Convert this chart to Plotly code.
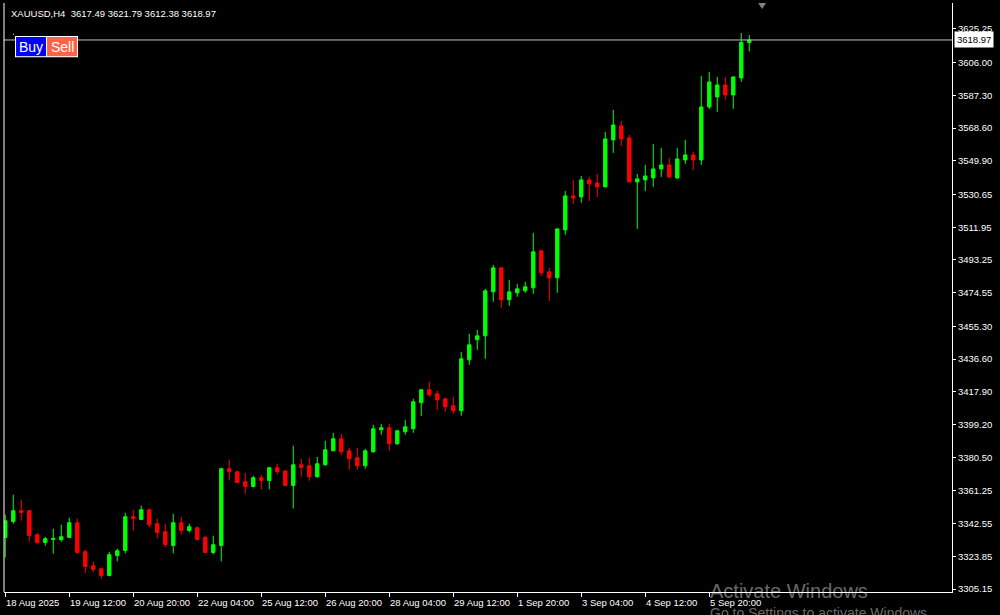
import plotly.graph_objects as go

# ---- data (XAUUSD H4) ----
opens = [3334.63, 3343.77, 3349.89, 3349.89, 3336.17, 3331.77, 3333.49, 3333.32, 3334.63, 3343.03,
         3326.46, 3318.46, 3316.75, 3312.92, 3324.35, 3327.20, 3346.46, 3344.92, 3350.46, 3342.46,
         3337.89, 3330.06, 3343.03, 3338.63, 3340.17, 3334.63, 3326.06, 3330.06, 3373.88, 3372.17,
         3366.45, 3363.77, 3368.74, 3367.20, 3374.45, 3372.60, 3364.34, 3376.17, 3375.59, 3369.31,
         3376.17, 3384.16, 3391.02, 3384.16, 3380.16, 3375.59, 3383.59, 3396.16, 3397.30, 3388.16,
         3395.02, 3396.73, 3411.59, 3419.01, 3416.73, 3413.87, 3409.87, 3407.02, 3436.15, 3447.58,
         3449.86, 3475.00, 3488.71, 3470.43, 3474.43, 3475.57, 3477.29, 3498.42, 3486.43, 3483.00,
         3510.42, 3529.85, 3529.27, 3538.99, 3537.27, 3534.99, 3561.84, 3569.84, 3562.98, 3537.84,
         3538.99, 3540.13, 3545.27, 3547.56, 3540.13, 3550.41, 3553.27, 3550.41, 3580.69, 3586.40,
         3593.26, 3587.55, 3597.26, 3617.49]
highs = [3347.60, 3359.03, 3356.17, 3350.20, 3337.15, 3335.03, 3339.60, 3341.89, 3345.89, 3345.32,
         3327.60, 3320.75, 3316.80, 3326.46, 3328.18, 3348.74, 3350.46, 3352.74, 3351.03, 3345.32,
         3342.46, 3348.17, 3346.46, 3342.46, 3340.74, 3335.77, 3335.60, 3374.45, 3379.02, 3372.74,
         3371.60, 3369.88, 3370.45, 3375.02, 3376.74, 3372.90, 3387.02, 3379.59, 3380.16, 3380.74,
         3389.88, 3394.45, 3393.88, 3385.88, 3385.88, 3385.31, 3399.02, 3399.59, 3399.59, 3396.16,
         3401.87, 3413.87, 3419.58, 3423.58, 3418.44, 3414.44, 3415.01, 3440.72, 3451.01, 3453.29,
         3476.71, 3490.43, 3489.00, 3481.86, 3479.57, 3480.71, 3508.71, 3498.99, 3488.71, 3511.20,
         3532.70, 3538.99, 3541.27, 3540.70, 3542.41, 3566.41, 3578.98, 3572.69, 3564.69, 3542.41,
         3547.56, 3559.55, 3557.27, 3551.55, 3557.27, 3561.84, 3554.98, 3598.40, 3600.69, 3597.83,
         3597.83, 3598.10, 3622.97, 3621.79]
lows = [3323.21, 3342.46, 3344.17, 3332.35, 3331.03, 3329.89, 3325.32, 3332.18, 3334.40, 3325.32,
        3314.47, 3314.64, 3311.04, 3312.35, 3320.92, 3325.49, 3338.46, 3344.70, 3340.46, 3334.06,
        3329.15, 3325.49, 3336.35, 3337.49, 3332.92, 3325.80, 3324.92, 3320.92, 3367.20, 3365.80,
        3359.77, 3363.20, 3362.05, 3362.05, 3370.62, 3363.77, 3351.20, 3369.31, 3367.02, 3368.74,
        3375.59, 3383.90, 3381.88, 3373.31, 3373.31, 3373.88, 3383.02, 3393.30, 3384.16, 3387.59,
        3393.30, 3394.45, 3404.16, 3415.01, 3407.59, 3406.44, 3405.30, 3404.16, 3433.30, 3441.86,
        3436.72, 3469.29, 3465.86, 3467.00, 3472.14, 3474.43, 3473.86, 3484.14, 3469.86, 3474.43,
        3507.56, 3525.27, 3525.85, 3526.99, 3529.27, 3534.80, 3554.41, 3558.41, 3537.60, 3510.99,
        3532.70, 3534.99, 3540.70, 3540.13, 3539.56, 3548.13, 3544.70, 3547.56, 3579.55, 3577.83,
        3584.69, 3579.55, 3594.97, 3612.38]
closes = [3344.17, 3349.89, 3348.92, 3335.77, 3331.77, 3333.89, 3334.06, 3335.03, 3343.03, 3326.06,
          3318.06, 3316.35, 3312.92, 3324.75, 3327.03, 3346.46, 3345.49, 3350.46, 3341.89, 3337.49,
          3330.63, 3343.03, 3338.63, 3340.74, 3333.49, 3326.06, 3330.46, 3373.88, 3372.34, 3366.05,
          3363.77, 3368.74, 3367.20, 3374.45, 3372.34, 3364.34, 3376.17, 3374.62, 3369.31, 3376.74,
          3384.73, 3391.02, 3383.59, 3379.59, 3375.59, 3384.16, 3396.73, 3397.30, 3388.16, 3395.59,
          3397.87, 3412.16, 3419.01, 3416.16, 3413.30, 3409.30, 3407.02, 3436.72, 3444.72, 3449.86,
          3475.57, 3488.71, 3470.43, 3475.00, 3476.71, 3477.86, 3497.85, 3485.86, 3483.00, 3510.99,
          3529.85, 3528.70, 3538.99, 3536.70, 3534.99, 3562.41, 3570.41, 3562.41, 3537.84, 3539.56,
          3541.27, 3545.27, 3547.56, 3540.70, 3550.98, 3553.27, 3550.41, 3580.69, 3594.97, 3593.26,
          3587.55, 3597.83, 3617.60, 3618.97]

time_labels = ["18 Aug 2025", "19 Aug 12:00", "20 Aug 20:00", "22 Aug 04:00", "25 Aug 12:00",
               "26 Aug 20:00", "28 Aug 04:00", "29 Aug 12:00", "1 Sep 20:00", "3 Sep 04:00",
               "4 Sep 12:00", "5 Sep 20:00"]
label_bars = [0, 8, 16, 24, 32, 40, 48, 56, 64, 72, 80, 88]

price_ticks = [3305.15, 3323.85, 3342.55, 3361.25, 3380.50, 3399.20, 3417.90, 3436.60, 3455.30,
               3474.55, 3493.25, 3511.95, 3530.65, 3549.90, 3568.60, 3587.30, 3606.00, 3625.25]

symbol = "XAUUSD,H4"

bars = list(range(len(closes)))
FONT = "Liberation Sans, Arial, sans-serif"

fig = go.Figure()
fig.add_trace(go.Candlestick(
    x=bars, open=opens, high=highs, low=lows, close=closes,
    increasing=dict(line=dict(color="#00FF00", width=1), fillcolor="#00FF00"),
    decreasing=dict(line=dict(color="#FF0000", width=1), fillcolor="#FF0000"),
    whiskerwidth=0, hoverinfo="skip",
))

last_close = closes[-1]

shapes = [
    # current bid line
    dict(type="line", xref="paper", yref="y", x0=0, x1=1, y0=last_close, y1=last_close,
         line=dict(color="#C0C0C0", width=1)),
    # left frame line
    dict(type="line", xref="paper", yref="paper", x0=0, x1=0, y0=0, y1=1,
         line=dict(color="white", width=1)),
    # chart shift marker
    dict(type="path", xref="paper", yref="paper",
         path="M 0.7955 1 L 0.8039 1 L 0.7997 0.99 Z",
         fillcolor="#808080", line=dict(color="#808080", width=0)),
    # buy / sell panel
    dict(type="rect", xref="paper", yref="paper", x0=0.0116, x1=0.0781, y0=0.908, y1=0.944,
         fillcolor="white", line=dict(width=0)),
    dict(type="rect", xref="paper", yref="paper", x0=0.0127, x1=0.0443, y0=0.9097, y1=0.9423,
         fillcolor="#0000FF", line=dict(width=0)),
    dict(type="rect", xref="paper", yref="paper", x0=0.0454, x1=0.0770, y0=0.9097, y1=0.9423,
         fillcolor="#FF6347", line=dict(width=0)),
    dict(type="rect", xref="paper", yref="paper", x0=0.0095, x1=0.0105, y0=0.946, y1=0.9477,
         fillcolor="white", line=dict(width=0)),
]

annotations = []
for b, t in zip(label_bars, time_labels):
    annotations.append(dict(x=b, y=0, xref="x", yref="paper", text=t, showarrow=False,
                            xanchor="left", yanchor="top", xshift=-1, yshift=-3,
                            font=dict(color="white", size=9.5, family=FONT)))

annotations += [
    dict(x=1, y=last_close, xref="paper", yref="y", text=f"{last_close:.2f}", showarrow=False,
         xanchor="left", yanchor="middle", xshift=2, bgcolor="white", borderpad=2,
         font=dict(color="black", size=9.5, family=FONT)),
    dict(x=0.005, y=1, xref="paper", yref="paper", yshift=-3, xanchor="left", yanchor="top",
         showarrow=False,
         text=f"{symbol}  {opens[-1]:.2f} {highs[-1]:.2f} {lows[-1]:.2f} {closes[-1]:.2f}",
         font=dict(color="white", size=9.5, family=FONT)),
    dict(x=0.0285, y=0.926, xref="paper", yref="paper", text="Buy", showarrow=False,
         xanchor="center", yanchor="middle", font=dict(color="white", size=14, family=FONT)),
    dict(x=0.0612, y=0.926, xref="paper", yref="paper", text="Sell", showarrow=False,
         xanchor="center", yanchor="middle", font=dict(color="white", size=14, family=FONT)),
    # OS watermark visible in the screenshot
    dict(x=0.7426, y=0.002, xref="paper", yref="paper", text="Activate Windows", showarrow=False,
         xanchor="left", yanchor="middle", font=dict(color="rgba(255,255,255,0.42)", size=20, family=FONT)),
    dict(x=0.7426, y=-0.036, xref="paper", yref="paper", text="Go to Settings to activate Windows.",
         showarrow=False, xanchor="left", yanchor="middle",
         font=dict(color="rgba(255,255,255,0.42)", size=14, family=FONT)),
]

fig.update_layout(
    width=1000, height=615,
    margin=dict(l=4, r=48, t=3, b=23, pad=0),
    paper_bgcolor="black", plot_bgcolor="black",
    showlegend=False,
    boxgap=0.4,
    xaxis=dict(range=[-0.16, 118.34], showgrid=False, zeroline=False,
               rangeslider=dict(visible=False),
               tickmode="array", tickvals=label_bars, ticks="outside", ticklen=4,
               tickcolor="white", showticklabels=False,
               showline=True, linecolor="white", linewidth=1, fixedrange=True),
    yaxis=dict(side="right", range=[3303.44, 3640.10], showgrid=False, zeroline=False,
               tickmode="array", tickvals=price_ticks,
               ticktext=[f"{v:.2f}" for v in price_ticks],
               ticks="outside", ticklen=3, tickcolor="white",
               tickfont=dict(color="white", size=9.5, family=FONT),
               showline=True, linecolor="white", linewidth=1, fixedrange=True),
    shapes=shapes,
    annotations=annotations,
)

fig.write_html("out.html", config={"displayModeBar": False},
               post_script="document.body.style.margin='0px';document.body.style.overflow='hidden';")
